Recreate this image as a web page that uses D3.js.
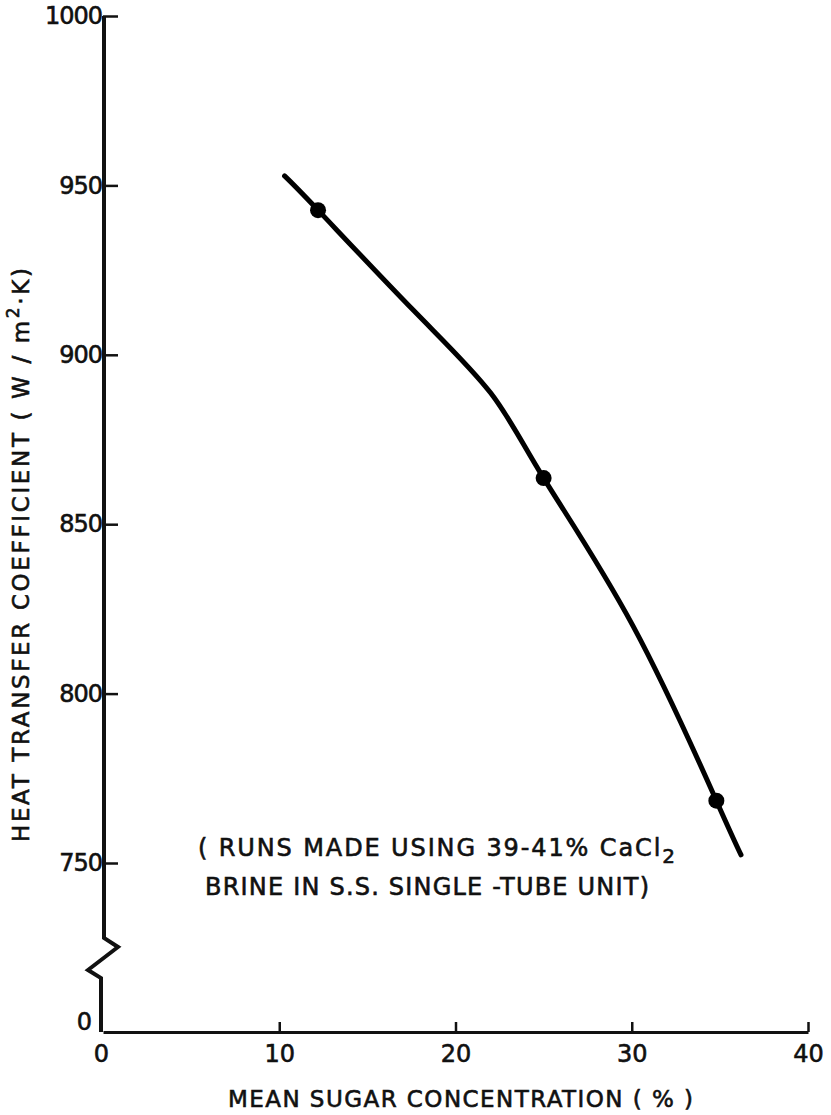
<!DOCTYPE html>
<html>
<head>
<meta charset="utf-8">
<script src="https://cdn.jsdelivr.net/npm/d3@7"></script>
<style>
  body { margin: 0; background: #fff; }
  svg { display: block; }
  text { font-family: "DejaVu Sans", sans-serif; fill: #111; stroke: #111; stroke-width: 0.6px; }
</style>
</head>
<body>
<svg width="831" height="1115"></svg>
<script>
// curve (mean sugar % vs heat transfer coefficient W/m2K)
var sugar = [10.3, 12.2, 17.6, 22.0, 25.0, 30.1, 34.8, 36.2]
var coeff = [952.8, 942.7, 913.2, 888.7, 863.6, 819.7, 768.4, 752.4]

// measured runs (dots)
var runSugar = [12.2, 25.0, 34.8]
var runCoeff = [942.7, 863.6, 768.4]

var xTicks = [0, 10, 20, 30, 40]
var yTicks = [0, 750, 800, 850, 900, 950, 1000]

var svg = d3.select("svg")

// broken y axis: 0 sits at the bottom, 750..1000 is the real range
var x = d3.scaleLinear().domain([0, 40]).range([103, 808])
var y = d3.scaleLinear().domain([0, 750, 1000]).range([1032, 863, 16])

//x axis
var xAxis = svg.append("g")
  .attr("transform", "translate(0," + y(0) + ")")
  .call(d3.axisBottom(x).tickValues(xTicks).tickFormat(d3.format("d"))
    .tickSizeInner(-10).tickSizeOuter(0).tickPadding(13))
xAxis.select(".domain").attr("stroke", "#111").attr("stroke-width", 3)
xAxis.selectAll(".tick line").attr("stroke", "#111").attr("stroke-width", 2.5)
xAxis.selectAll(".tick").filter(function(d) { return d === 0 }).select("line").remove()
xAxis.selectAll("text").attr("font-size", 24).attr("fill", "#111")
xAxis.selectAll(".tick").filter(function(d) { return d === 0 }).select("text").attr("dx", -2)

//y axis
var yAxis = svg.append("g")
  .attr("transform", "translate(" + x(0) + ",0)")
  .call(d3.axisLeft(y).tickValues(yTicks).tickFormat(d3.format("d"))
    .tickSizeInner(-15).tickSizeOuter(0).tickPadding(1))
yAxis.select(".domain").remove()
yAxis.selectAll(".tick line").attr("stroke", "#111").attr("stroke-width", 2.5)
yAxis.selectAll("text").attr("font-size", 24).attr("fill", "#111").attr("letter-spacing", -1)
var zero = yAxis.selectAll(".tick").filter(function(d) { return d === 0 })
zero.select("line").remove()
zero.select("text").attr("x", -12).attr("dy", "-0.1em")

// axis line with the zigzag break
var y0 = y(0), ax = x(0)
var axisPath = d3.path()
axisPath.moveTo(ax + 1, y(1000))
axisPath.lineTo(ax + 1, y0 - 94)
axisPath.lineTo(ax + 15, y0 - 85)
axisPath.lineTo(ax - 15, y0 - 62)
axisPath.lineTo(ax - 2, y0 - 54)
axisPath.lineTo(ax - 2, y0)
svg.append("path")
  .attr("d", axisPath.toString())
  .attr("fill", "none")
  .attr("stroke", "#111")
  .attr("stroke-width", 4)
  .attr("stroke-linejoin", "miter")

// the curve
var pts = sugar.map(function(s, i) { return [s, coeff[i]] })
var line = d3.line()
  .x(function(d) { return x(d[0]) })
  .y(function(d) { return y(d[1]) })
  .curve(d3.curveNatural)

svg.append("path")
  .datum(pts)
  .attr("d", line)
  .attr("fill", "none")
  .attr("stroke", "#000")
  .attr("stroke-width", 5)
  .attr("stroke-linecap", "round")

svg.append("g").selectAll("circle")
  .data(runSugar)
  .enter().append("circle")
  .attr("cx", function(d) { return x(d) })
  .attr("cy", function(d, i) { return y(runCoeff[i]) })
  .attr("r", 8)
  .attr("fill", "#000")

// axis titles
svg.append("text")
  .attr("x", 228).attr("y", 1107)
  .attr("font-size", 23)
  .attr("textLength", 465).attr("lengthAdjust", "spacing")
  .text("MEAN  SUGAR  CONCENTRATION ( % )")

var yt = svg.append("text")
  .attr("transform", "translate(29,842) rotate(-90)")
  .attr("font-size", 23)
  .attr("textLength", 574).attr("lengthAdjust", "spacing")
yt.append("tspan").text("HEAT  TRANSFER  COEFFICIENT ( W / m")
yt.append("tspan").attr("font-size", 17).attr("dy", -10).text("2")
yt.append("tspan").attr("dy", 10).text("·K)")

// note inside the plot
var note1 = svg.append("text")
  .attr("x", 198).attr("y", 856)
  .attr("font-size", 24)
  .attr("textLength", 477).attr("lengthAdjust", "spacing")
note1.append("tspan").text("( RUNS  MADE  USING  39-41% CaCl")
note1.append("tspan").attr("dy", 7).attr("font-size", 20).text("2")

svg.append("text")
  .attr("x", 205).attr("y", 895)
  .attr("font-size", 24)
  .attr("textLength", 444).attr("lengthAdjust", "spacing")
  .text("BRINE  IN  S.S.  SINGLE -TUBE  UNIT)")
</script>
</body>
</html>
